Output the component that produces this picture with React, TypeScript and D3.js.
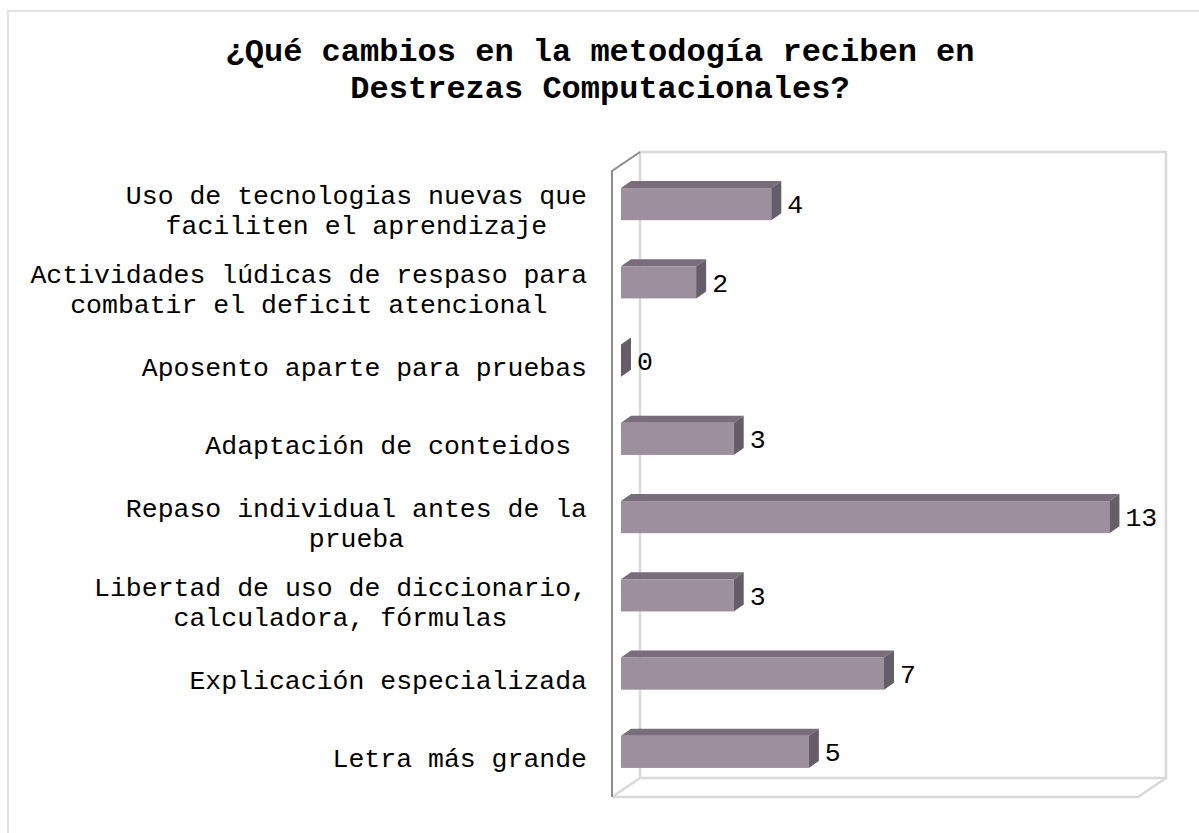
import React from 'react';
import * as d3 from 'd3';

const categories = [
  ['Uso de tecnologias nuevas que', 'faciliten el aprendizaje'],
  ['Actividades lúdicas de respaso para', 'combatir el deficit atencional'],
  ['Aposento aparte para pruebas'],
  ['Adaptación de conteidos '],
  ['Repaso individual antes de la', 'prueba'],
  ['Libertad de uso de diccionario,', 'calculadora, fórmulas'],
  ['Explicación especializada'],
  ['Letra más grande'],
];
const values = [4, 2, 0, 3, 13, 3, 7, 5];
const titleLines = ['¿Qué cambios en la metodogía reciben en', 'Destrezas Computacionales?'];

const W = 1199;
const H = 833;
const FONT = '"Liberation Mono", "Courier New", monospace';
const labelSize = 26.5;
const charW = labelSize * 0.6;

// front plane of the 3d box, and depth of the box
const front = { left: 612, top: 171, right: 1138, bottom: 797 };
const wallDx = 28;
const wallDy = -19;
// bars sit a bit behind the front plane
const barOffX = 9;
const barOffY = -6;
const barDx = 10;
const barDy = -7;

const App = () => {
  const keys = categories.map((c) => c.join(' '));

  const x = d3.scaleLinear().domain([0, 14]).range([0, front.right - front.left]);
  const y = d3
    .scaleBand<string>()
    .domain(keys)
    .range([front.top, front.bottom])
    .paddingInner(0.59)
    .paddingOuter(0.295);

  const step = y.step();
  const labelRight = 587;

  const backLeft = front.left + wallDx;
  const backRight = front.right + wallDx;
  const backTop = front.top + wallDy;
  const backBottom = front.bottom + wallDy;

  return (
    <svg
      width={W}
      height={H}
      style={{ position: 'absolute', left: 0, top: 0, background: '#fff' }}
    >
      <rect x={8} y={11} width={1240} height={900} fill="#fff" stroke="#d9d9d9" strokeWidth={1.5} />

      {titleLines.map((t, i) => (
        <text
          key={t}
          x={600}
          y={50 + i * 37}
          dy="0.35em"
          textAnchor="middle"
          fontFamily={FONT}
          fontWeight="bold"
          fontSize={32}
          fill="#000"
        >
          {t}
        </text>
      ))}

      {/* back wall and floor */}
      <g fill="none" stroke="#d9d9d9" strokeWidth={2.5}>
        <rect x={backLeft} y={backTop} width={backRight - backLeft} height={backBottom - backTop} />
        <path
          d={`M${front.left},${front.bottom}L${front.right},${front.bottom}L${backRight},${backBottom}`}
        />
        <path d={`M${front.left},${front.bottom}L${backLeft},${backBottom}`} />
      </g>
      {/* left wall edges */}
      <path
        d={`M${front.left},${front.bottom}L${front.left},${front.top}L${backLeft},${backTop}`}
        fill="none"
        stroke="#8c8c8c"
        strokeWidth={2}
      />

      {keys.map((k, i) => {
        const v = values[i];
        const fx0 = front.left + barOffX + x(0);
        const fx1 = front.left + barOffX + x(v);
        const fy0 = (y(k) as number) + barOffY;
        const fy1 = fy0 + y.bandwidth();
        return (
          <g key={k}>
            <rect x={fx0} y={fy0} width={fx1 - fx0} height={fy1 - fy0} fill="#9d8f9e" />
            <polygon
              points={`${fx0},${fy0} ${fx0 + barDx},${fy0 + barDy} ${fx1 + barDx},${fy0 + barDy} ${fx1},${fy0}`}
              fill="#7a6d7b"
            />
            <polygon
              points={`${fx1},${fy0} ${fx1 + barDx},${fy0 + barDy} ${fx1 + barDx},${fy1 + barDy} ${fx1},${fy1}`}
              fill="#675c69"
            />
            <text
              x={fx1 + barDx + 6}
              y={(fy0 + fy1) / 2}
              dy="0.35em"
              fontFamily={FONT}
              fontSize={labelSize}
              fill="#000"
            >
              {v}
            </text>
          </g>
        );
      })}

      {categories.map((lines, i) => {
        const k = keys[i];
        const cy = (y(k) as number) - y.step() * y.paddingOuter() + step / 2;
        const maxLen = d3.max(lines, (l) => l.length) as number;
        const cx = labelRight - (maxLen * charW) / 2;
        const lh = 30;
        return (
          <text
            key={k}
            fontFamily={FONT}
            fontSize={labelSize}
            textAnchor="middle"
            fill="#000"
            style={{ whiteSpace: 'pre' }}
          >
            {lines.map((l, j) => (
              <tspan key={j} x={cx} y={cy + (j - (lines.length - 1) / 2) * lh} dy="0.35em">
                {l}
              </tspan>
            ))}
          </text>
        );
      })}
    </svg>
  );
};

export default App;
